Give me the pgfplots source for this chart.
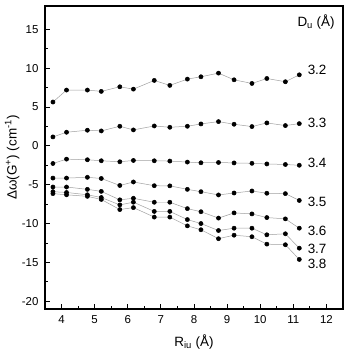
\documentclass[border=0pt]{standalone}
\usepackage{pgfplots}
\pgfplotsset{compat=1.18}
\usepackage{fontspec}
\setmainfont{Liberation Sans}
\pgfplotsset{ser/.style={color=gray!75, line width=0.5pt, mark=*, mark size=2.1bp, mark options={solid, draw=black, fill=black}}}
\begin{document}
\begin{tikzpicture}
\useasboundingbox (-45bp,-47bp) rectangle (307bp,309bp);
\begin{axis}[
  scale only axis,
  width=298bp, height=303bp,
  xmin=3.5, xmax=12.5, ymin=-21, ymax=18,
  xtick={4,5,...,12}, ytick={-20,-15,...,15},
  minor x tick num=1, minor y tick num=1,
  tick pos=left, tick align=inside,
  major tick length=5bp, minor tick length=3bp,
  axis line style={line width=1.2pt},
  every tick/.style={black, line width=0.8pt},
  /pgf/number format/assume math mode=true,
  tick label style={font=\fontsize{11.5}{14}\selectfont},
  yticklabel style={xshift=-3bp},
  xticklabel style={yshift=-3bp},
  xlabel={R\textsubscript{iu} (Å)},
  ylabel={Δω(G\textsuperscript{+}) (cm\textsuperscript{-1})},
  every axis x label/.style={at={(axis description cs:0.5,-0.108)}, anchor=center, font=\fontsize{13.5}{15}\selectfont},
  every axis y label/.style={at={(axis description cs:-0.11,0.5)}, anchor=center, rotate=90, font=\fontsize{13.5}{15}\selectfont},
  clip=false,
]
\addplot[ser] coordinates {(3.74,5.64)(4.15,7.18)(4.78,7.18)(5.20,7.01)(5.76,7.6)(6.17,7.3)(6.80,8.42)(7.27,7.78)(7.80,8.59)(8.21,8.89)(8.74,9.36)(9.21,8.5)(9.75,8.03)(10.20,8.67)(10.76,8.25)(11.18,9.14)};
\addplot[ser] coordinates {(3.74,1.15)(4.15,1.75)(4.78,2.01)(5.20,1.92)(5.76,2.52)(6.17,2.05)(6.80,2.56)(7.27,2.39)(7.80,2.52)(8.21,2.82)(8.74,3.12)(9.21,2.78)(9.75,2.48)(10.20,2.95)(10.76,2.61)(11.18,2.86)};
\addplot[ser] coordinates {(3.74,-2.27)(4.15,-1.71)(4.78,-1.79)(5.20,-1.92)(5.76,-2.05)(6.17,-1.88)(6.80,-1.92)(7.27,-1.96)(7.80,-2.09)(8.21,-2.18)(8.74,-2.14)(9.21,-2.2)(9.75,-2.25)(10.20,-2.33)(10.76,-2.4)(11.18,-2.5)};
\addplot[ser] coordinates {(3.74,-4.15)(4.15,-4.15)(4.78,-4.05)(5.20,-4.2)(5.76,-5.1)(6.17,-4.65)(6.80,-5.13)(7.27,-5.15)(7.80,-5.6)(8.21,-5.9)(8.74,-6.32)(9.21,-6.07)(9.75,-5.81)(10.20,-6.1)(10.76,-6.15)(11.18,-7.03)};
\addplot[ser] coordinates {(3.74,-5.3)(4.15,-5.3)(4.78,-5.6)(5.20,-5.86)(5.76,-6.95)(6.17,-6.75)(6.80,-7.26)(7.27,-7.26)(7.80,-8.08)(8.21,-8.48)(8.74,-9.3)(9.21,-8.63)(9.75,-8.76)(10.20,-9.23)(10.76,-9.4)(11.18,-10.6)};
\addplot[ser] coordinates {(3.74,-5.9)(4.15,-6.0)(4.78,-6.3)(5.20,-6.65)(5.76,-7.6)(6.17,-7.25)(6.80,-8.44)(7.27,-8.44)(7.80,-9.49)(8.21,-10.0)(8.74,-10.9)(9.21,-10.6)(9.75,-10.6)(10.20,-11.45)(10.76,-11.32)(11.18,-13.17)};
\addplot[ser] coordinates {(3.74,-6.15)(4.15,-6.3)(4.78,-6.5)(5.20,-6.9)(5.76,-8.2)(6.17,-7.95)(6.80,-9.17)(7.27,-9.17)(7.80,-10.3)(8.21,-10.8)(8.74,-11.95)(9.21,-11.5)(9.75,-11.7)(10.20,-12.65)(10.76,-12.73)(11.18,-14.62)};
\begin{scope}[every node/.style={anchor=west, font=\fontsize{13.5}{15}\selectfont, inner sep=0pt}]
\node at (axis cs:11.43,9.74) {3.2};
\node at (axis cs:11.43,2.91) {3.3};
\node at (axis cs:11.43,-2.22) {3.4};
\node at (axis cs:11.43,-7.22) {3.5};
\node at (axis cs:11.43,-10.9) {3.6};
\node at (axis cs:11.43,-13.24) {3.7};
\node at (axis cs:11.43,-15.17) {3.8};
\node at (axis cs:11.12,15.9) {D\textsubscript{u} (Å)};
\end{scope}
\end{axis}
\end{tikzpicture}
\end{document}
